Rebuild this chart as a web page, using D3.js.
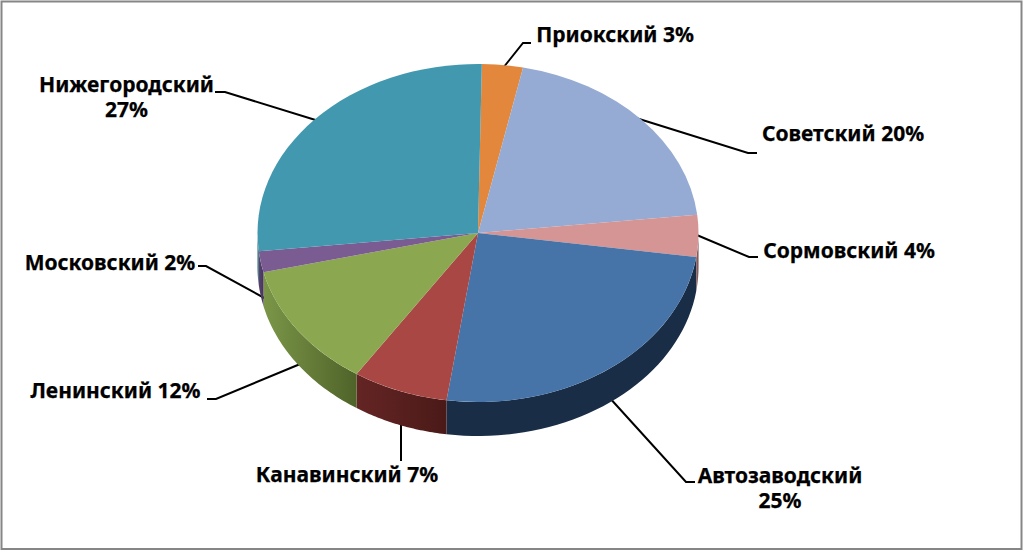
<!DOCTYPE html>
<html>
<head>
<meta charset="utf-8">
<script src="https://cdn.jsdelivr.net/npm/d3@7"></script>
<style>
  html, body { margin: 0; padding: 0; background: #fff; }
  svg { display: block; }
  text { font-family: "Noto Sans", sans-serif; font-weight: 700; font-size: 21px; fill: #000; stroke: #000; stroke-width: 0.25px; }
</style>
</head>
<body>
<svg id="chart" width="1024" height="552"></svg>
<script>
// district shares, clockwise from the top of the pie
const districts = ['Приокский', 'Советский', 'Сормовский', 'Автозаводский', 'Канавинский', 'Ленинский', 'Московский', 'Нижегородский'];
const shares = [3, 20, 4, 25, 7, 12, 2, 27];
const topColors = ['#e2873b', '#95abd3', '#d59595', '#4674a8', '#a94744', '#8ba850', '#7a5c92', '#4198af'];
const wallLight = ['#8f5526', '#5f6d87', '#a57272', '#1a2d47', '#642524', '#7b9648', '#5b4470', '#2c6675'];
const wallDark = ['#8f5526', '#5f6d87', '#6a4646', '#1a2d47', '#4a1a18', '#4f6329', '#46345a', '#2c6675'];

// label text position, and leader line running pie -> label
const labelPos = [
  { x: 615, y: 42, wrap: false },
  { x: 843, y: 141, wrap: false },
  { x: 849, y: 258, wrap: false },
  { x: 780, y: 483, wrap: true },
  { x: 347, y: 482, wrap: false },
  { x: 115.5, y: 398, wrap: false },
  { x: 110, y: 270, wrap: false },
  { x: 126.5, y: 92, wrap: true }
];
const leaders = [
  [[503, 68], [523, 43], [531, 43]],
  [[636, 118], [748, 153], [757, 153]],
  [[692, 233], [749, 257], [758, 257]],
  [[608, 396], [686, 482], [695, 482]],
  [[401, 420], [401, 461]],
  [[305, 362], [216, 399], [207, 399]],
  [[268, 300], [206, 266], [198, 266]],
  [[322, 122], [225, 92], [215, 92]]
];

const cx = 478, cy = 233, rx = 220.5, ry = 169, depth = 34;
const rotation = 1 * Math.PI / 180;

const svg = d3.select('#chart');
const defs = svg.append('defs');

// chart frame
svg.append('rect')
  .attr('x', 1.5).attr('y', 1.5)
  .attr('width', 1020).attr('height', 547.5)
  .attr('fill', '#fff')
  .attr('stroke', '#868686')
  .attr('stroke-width', 2);

const pie = d3.pie().sort(null)
  .startAngle(rotation)
  .endAngle(rotation + 2 * Math.PI);
const slices = pie(shares);

// leaders go under the pie so that they stop at its edge
const leaderLine = d3.line();
svg.append('g').selectAll('path')
  .data(leaders)
  .enter().append('path')
  .attr('d', leaderLine)
  .attr('fill', 'none')
  .attr('stroke', '#000')
  .attr('stroke-width', 2);

// side wall, only the front half of the rim shows
const px = a => cx + rx * Math.sin(a);
const py = a => cy - ry * Math.cos(a);
const wallLine = d3.line().x(d => d[0]).y(d => d[1]);

function wallPoints(d) {
  const a0 = Math.max(d.startAngle, Math.PI / 2);
  const a1 = Math.min(d.endAngle, 3 * Math.PI / 2);
  if (a1 <= a0) return null;
  const steps = d3.range(0, 41).map(i => a0 + (a1 - a0) * i / 40);
  const upper = steps.map(a => [px(a), py(a)]);
  const lower = steps.slice().reverse().map(a => [px(a), py(a) + depth]);
  return upper.concat(lower);
}

const walls = svg.append('g');
slices.forEach((d, i) => {
  const pts = wallPoints(d);
  if (!pts) return;
  const xs = d3.extent(pts, p => p[0]);
  const grad = defs.append('linearGradient')
    .attr('id', 'wall' + i)
    .attr('gradientUnits', 'userSpaceOnUse')
    .attr('x1', xs[0]).attr('x2', xs[1])
    .attr('y1', 0).attr('y2', 0);
  grad.append('stop').attr('offset', 0).attr('stop-color', wallLight[i]);
  grad.append('stop').attr('offset', 1).attr('stop-color', wallDark[i]);
  walls.append('path')
    .attr('d', wallLine(pts) + 'Z')
    .attr('fill', 'url(#wall' + i + ')');
});

// top face: a unit arc squashed into the tilted ellipse
const arc = d3.arc().innerRadius(0).outerRadius(rx);
svg.append('g')
  .attr('transform', `translate(${cx},${cy}) scale(1,${ry / rx})`)
  .selectAll('path')
  .data(slices)
  .enter().append('path')
  .attr('d', arc)
  .attr('fill', (d, i) => topColors[i]);

// labels
const labels = svg.append('g').selectAll('text')
  .data(districts)
  .enter().append('text')
  .attr('text-anchor', 'middle')
  .attr('x', (d, i) => labelPos[i].x)
  .attr('y', (d, i) => labelPos[i].y);

labels.each(function(name, i) {
  const t = d3.select(this);
  const pct = shares[i] + '%';
  if (labelPos[i].wrap) {
    t.append('tspan').attr('x', labelPos[i].x).text(name);
    t.append('tspan').attr('x', labelPos[i].x).attr('dy', 24.5).text(pct);
  } else {
    t.text(name + ' ' + pct);
  }
});
</script>
</body>
</html>
